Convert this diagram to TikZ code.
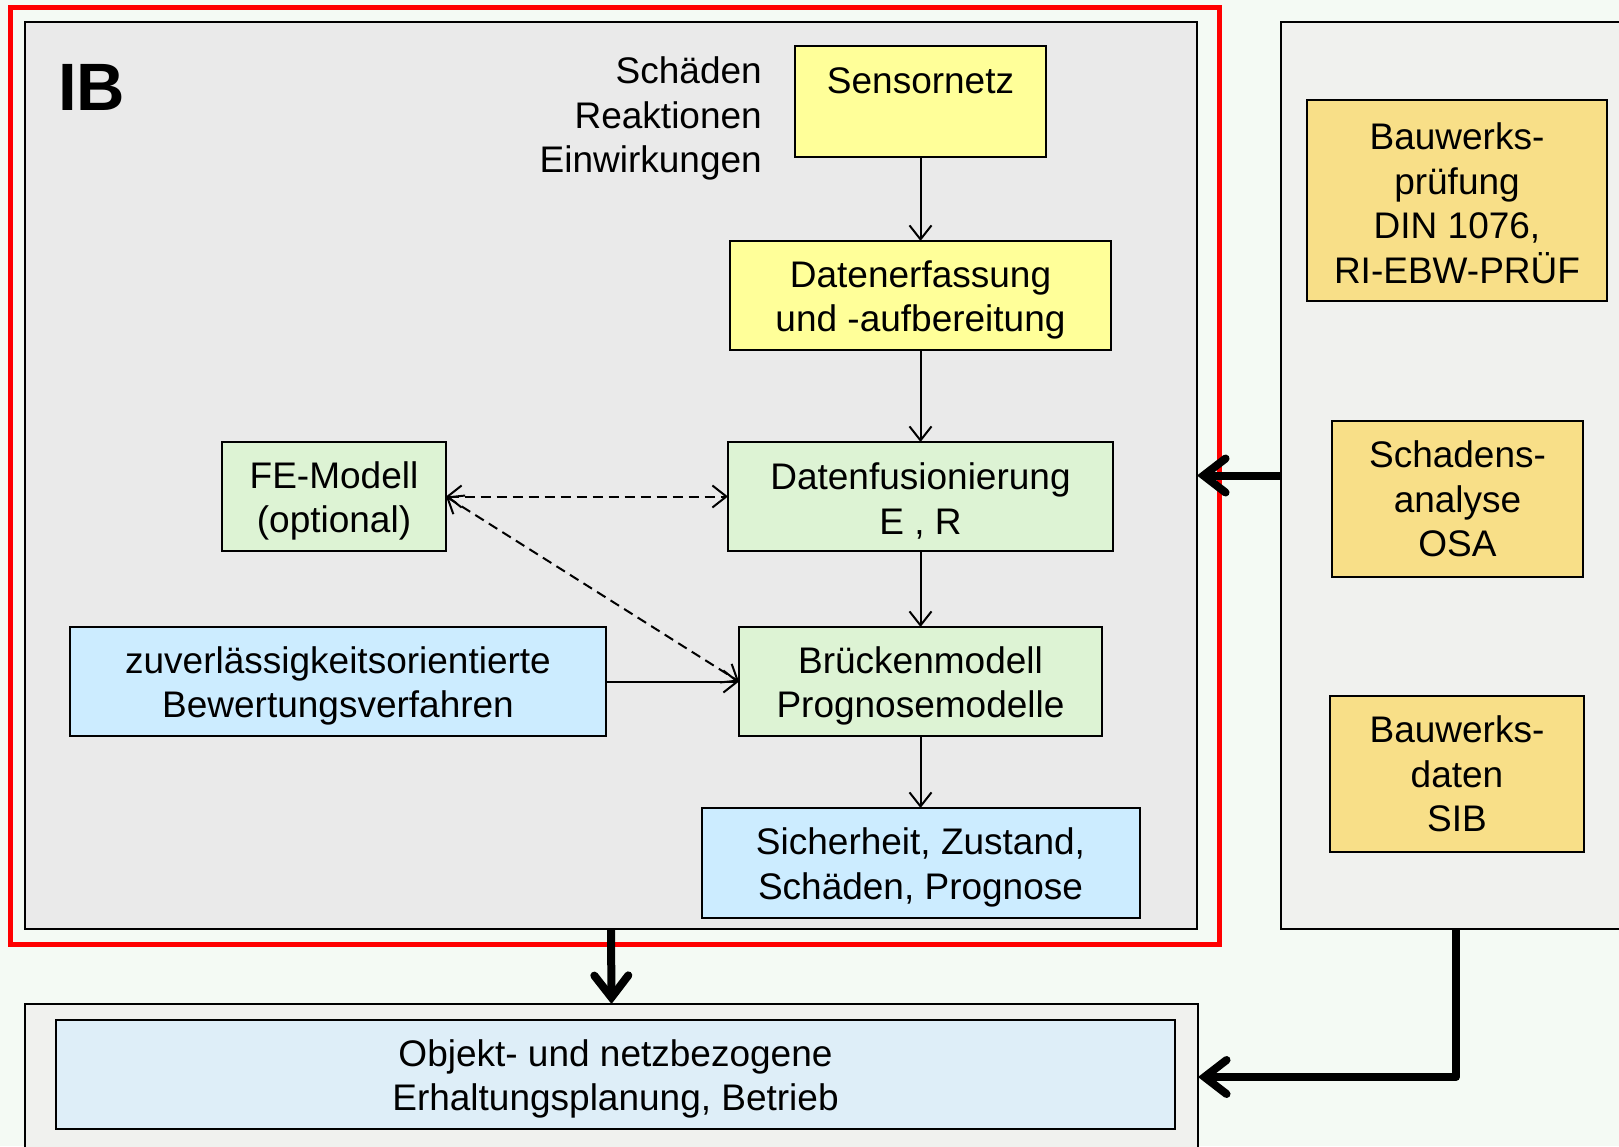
\documentclass[tikz,border=0pt]{standalone}
\usepackage{fontspec}
\setmainfont{Liberation Sans}
\usetikzlibrary{arrows.meta}
\definecolor{bgc}{RGB}{244,250,244}
\definecolor{ibgray}{RGB}{234,234,234}
\definecolor{rgray}{RGB}{240,241,238}
\definecolor{yel}{RGB}{255,255,153}
\definecolor{grn}{RGB}{221,243,212}
\definecolor{blu}{RGB}{204,236,255}
\definecolor{org}{RGB}{248,223,136}
\definecolor{blutwo}{RGB}{222,238,248}
\newcommand\mydn{\rule{0pt}{36pt}}
\newcommand\mydnr{\rule{0pt}{32pt}}
\begin{document}
\begin{tikzpicture}[x=1pt,y=-1pt,
  txt/.style={font=\fontsize{37}{44.5}\selectfont, align=center},
  box/.style={txt, draw=black, line width=2pt, inner sep=0pt, outer sep=0pt},
  bigbox/.style={draw=black, line width=2.5pt, inner sep=0pt, outer sep=0pt},
  thin/.style={line width=2pt, -{Straight Barb[length=14pt,width=22pt]}},
  dthin/.style={line width=2pt, dash pattern=on 10pt off 6pt, {Straight Barb[length=14pt,width=22pt]}-{Straight Barb[length=14pt,width=22pt]}},
  thick/.style={line width=8pt, -{Straight Barb[length=22pt,width=34pt,line cap=round]}}
]
\clip (0,0) rectangle (1619,1146);
\fill[bgc] (0,0) rectangle (1619,1146);
\useasboundingbox (0,0) rectangle (1619,1146);

% big frames
\node[bigbox, fill=ibgray, minimum width=1172pt, minimum height=907pt] (ibbox) at (611,475.5) {};
\node[bigbox, fill=rgray, minimum width=359pt, minimum height=907pt] (rbox) at (1460.5,475.5) {};
\node[bigbox, fill=rgray, minimum width=1173pt, minimum height=146pt] (bbox) at (611.5,1077) {};
\draw[red, line width=5pt] (10,7.5) rectangle (1219,944);

\node[anchor=base west, inner sep=0pt, font=\fontsize{67}{67}\selectfont\bfseries] (ib) at (58,110) {IB};

\node[txt, anchor=base east, inner sep=0pt] (l1) at (762,83) {Schäden};
\node[txt, anchor=base east, inner sep=0pt] (l2) at (762,128) {Reaktionen};
\node[txt, anchor=base east, inner sep=0pt] (l3) at (762,172) {Einwirkungen};

% inner boxes
\node[box, fill=yel, minimum width=251pt, minimum height=111pt, text height=27pt, text depth=44pt] (sensor) at (920.5,101.5) {Sensornetz};
\node[box, fill=yel, minimum width=381pt, minimum height=109pt] (erf) at (920.5,295.5) {\mydn Datenerfassung\\und -aufbereitung};
\node[box, fill=grn, minimum width=385pt, minimum height=109pt] (fus) at (920.5,496.5) {\mydn Datenfusionierung\\E , R};
\node[box, fill=grn, minimum width=224pt, minimum height=109pt] (fe) at (334,496.5) {\mydn FE-Modell\\(optional)};
\node[box, fill=blu, minimum width=536pt, minimum height=109pt] (zuv) at (338,681.5) {\mydn zuverlässigkeitsorientierte\\Bewertungsverfahren};
\node[box, fill=grn, minimum width=363pt, minimum height=109pt] (brm) at (920.5,681.5) {\mydn Brückenmodell\\Prognosemodelle};
\node[box, fill=blu, minimum width=438pt, minimum height=110pt] (sich) at (920.5,863) {\mydn Sicherheit, Zustand,\\Schäden, Prognose};

\node[box, fill=org, minimum width=300pt, minimum height=201pt] (bwp) at (1457,200.5) {\mydnr Bauwerks-\\prüfung\\DIN 1076,\\RI-EBW-PRÜF};
\node[box, fill=org, minimum width=251pt, minimum height=156pt] (osa) at (1457.5,499) {Schadens-\\analyse\\OSA};
\node[box, fill=org, minimum width=254pt, minimum height=156pt] (sib) at (1457,774) {Bauwerks-\\daten\\SIB};

\node[box, fill=blutwo, minimum width=1119pt, minimum height=109pt] (plan) at (615.5,1074.5) {\mydn Objekt- und netzbezogene\\Erhaltungsplanung, Betrieb};

% connectors
\draw[thin] (sensor) -- (erf);
\draw[thin] (erf) -- (fus);
\draw[thin] (fus) -- (brm);
\draw[thin] (brm) -- (sich);
\draw[thin] (zuv) -- (brm);
\draw[dthin] (fe.east) -- (fus.west);
\draw[dthin] (fe.east) -- (brm.west);

\draw[thick] (rbox.west) -- (ibbox.east);
\draw[thick] (ibbox.south) -- (bbox.north);
\coordinate (rb) at (1456,929);
\draw[thick, line join=round] (rb) |- (bbox.east);
\end{tikzpicture}
\end{document}
